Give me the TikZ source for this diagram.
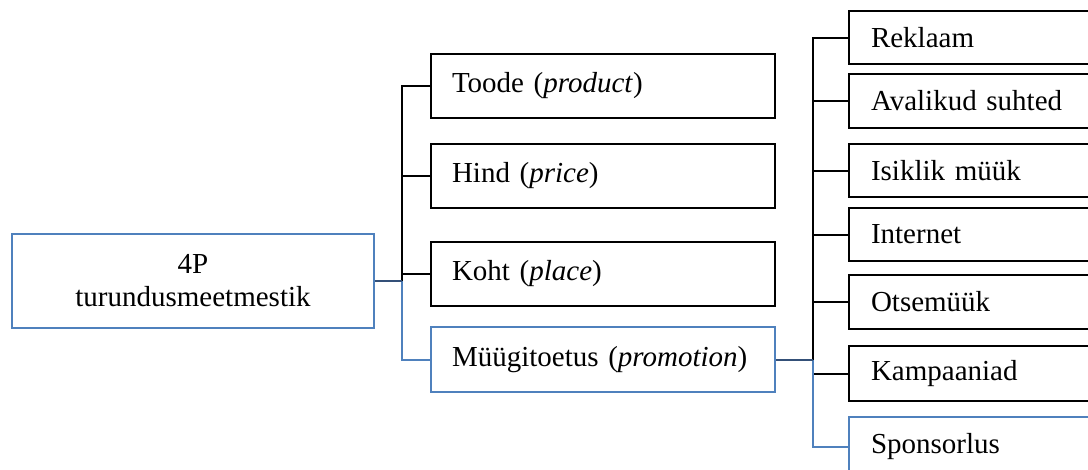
\documentclass[tikz,border=0pt]{standalone}
\usepackage{fontspec}
\setmainfont{Liberation Serif}
\definecolor{boxblue}{RGB}{79,129,189}
\definecolor{joinblue}{RGB}{52,80,120}
\tikzset{
	box/.style={draw, line width=2pt, inner ysep=0pt, anchor=north west, align=left, font=\fontsize{29}{33}\selectfont},
	midbox/.style={box, text width=302pt, inner xsep=21pt, minimum height=64pt},
	sidebox/.style={box, text width=218pt, inner xsep=22pt, minimum height=54pt},
	link/.style={line width=2pt},
	spine/.style={line width=2.8pt}
}

\begin{document}
\begin{tikzpicture}[x=1pt, y=-1pt]
		\useasboundingbox (0, 0) rectangle (1088, 469);
		\clip (0, 0) rectangle (1088, 469);
		
		% root
		\node[box, draw=boxblue, text width=362pt, inner xsep=0pt, align=center, minimum height=94pt] (root) at (11, 233) {4P\\turundusmeetmestik};
		
		% the four P
		\node[midbox] (toode) at (430, 53) {Toode (\textit{product})};
		\node[midbox] (hind) at (430, 143) {Hind (\textit{price})};
		\node[midbox] (koht) at (430, 241) {Koht (\textit{place})};
		\node[midbox, draw=boxblue, minimum height=65pt] (muugi) at (430, 326) {Müügitoetus (\textit{promotion})};
		
		% promotion tools
		\node[sidebox, minimum height=53pt] (reklaam) at (848, 10) {Reklaam};
		\node[sidebox] (avalikud) at (848, 73) {Avalikud suhted};
		\node[sidebox, minimum height=53pt] (isiklik) at (848, 143) {Isiklik müük};
		\node[sidebox, minimum height=53pt] (internet) at (848, 207) {Internet};
		\node[sidebox] (otsemuuk) at (848, 274) {Otsemüük};
		\node[sidebox, minimum height=55pt] (kampaaniad) at (848, 345) {Kampaaniad};
		\node[sidebox, draw=boxblue, minimum height=60pt] (sponsorlus) at (848, 416) {Sponsorlus};
		
		% links from root
		\coordinate (spineA) at ([xshift=27pt]root.east);
		\draw[spine] (spineA) -- (spineA |- toode.west);
		\draw[link] (spineA) |- (toode.west);
		\draw[link] (spineA) |- (hind.west);
		\draw[link] (spineA) |- (koht.west);
		\draw[link, boxblue] (spineA) |- (muugi.west);
		\draw[link, joinblue] (root.east) -- (spineA);
		
		% links from promotion
		\coordinate (spineB) at ([xshift=37pt]muugi.east);
		\draw[spine] (spineB) -- (spineB |- reklaam.west);
		\draw[link] (spineB) |- (reklaam.west);
		\draw[link] (spineB) |- (avalikud.west);
		\draw[link] (spineB) |- (isiklik.west);
		\draw[link] (spineB) |- (internet.west);
		\draw[link] (spineB) |- (otsemuuk.west);
		\draw[link] (spineB) |- (kampaaniad.west);
		\draw[link, boxblue] (spineB) |- (sponsorlus.west);
		\draw[link, joinblue] (muugi.east) -- (spineB);
		
\end{tikzpicture}
\end{document}
